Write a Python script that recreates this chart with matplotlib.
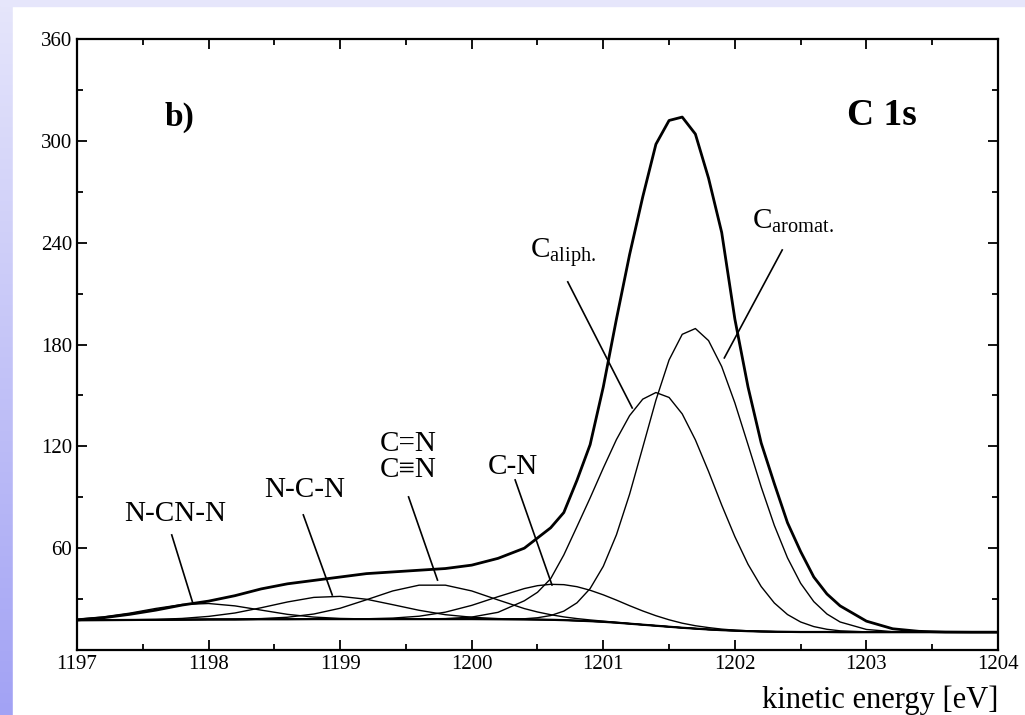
import numpy as np
import matplotlib
matplotlib.use("Agg")
import matplotlib.pyplot as plt
from matplotlib.ticker import MultipleLocator, FormatStrFormatter
from matplotlib.patches import Rectangle

# values (kinetic energy in eV, intensity in counts)
energy = [1197.0, 1197.2, 1197.4, 1197.6, 1197.8, 1198.0, 1198.2, 1198.4, 1198.6,
          1198.8, 1199.0, 1199.2, 1199.4, 1199.6, 1199.8, 1200.0, 1200.2, 1200.4,
          1200.5, 1200.6, 1200.7, 1200.8, 1200.9, 1201.0, 1201.1, 1201.2, 1201.3,
          1201.4, 1201.5, 1201.6, 1201.7, 1201.8, 1201.9, 1202.0, 1202.1, 1202.2,
          1202.3, 1202.4, 1202.5, 1202.6, 1202.7, 1202.8, 1203.0, 1203.2, 1203.4,
          1203.6, 1203.8, 1204.0]
background = [17.5, 17.6, 17.7, 17.8, 17.9, 18.0, 18.0, 18.1, 18.1,
              18.2, 18.2, 18.2, 18.2, 18.2, 18.2, 18.2, 18.1, 18.0,
              17.9, 17.8, 17.6, 17.3, 17.0, 16.6, 16.1, 15.5, 14.9,
              14.3, 13.7, 13.1, 12.6, 12.1, 11.7, 11.4, 11.1, 10.9,
              10.8, 10.7, 10.6, 10.6, 10.6, 10.5, 10.5, 10.5, 10.5,
              10.5, 10.5, 10.5]
total = [17.7, 19.0, 21.0, 23.5, 26.5, 28.8, 32.0, 36.0, 39.0,
         41.0, 43.0, 45.0, 46.0, 47.0, 48.0, 50.0, 54.0, 60.0,
         66.0, 72.0, 81.0, 100.0, 121.0, 155.0, 195.0, 233.0, 267.0,
         298.0, 312.0, 314.0, 304.0, 278.0, 246.0, 195.0, 155.0, 122.0,
         98.0, 75.0, 58.0, 43.0, 33.0, 26.0, 17.0, 12.5, 11.0,
         10.6, 10.5, 10.5]
ncnn = [18.2, 19.5, 21.7, 24.5, 26.8, 27.4, 26.0, 23.5, 21.0,
        19.4, 18.6, 18.3, 18.2, 18.2, 18.2, 18.2, 18.1, 18.0,
        17.9, 17.8, 17.6, 17.3, 17.0, 16.6, 16.1, 15.5, 14.9,
        14.3, 13.7, 13.1, 12.6, 12.1, 11.7, 11.4, 11.1, 10.9,
        10.8, 10.7, 10.6, 10.6, 10.6, 10.5, 10.5, 10.5, 10.5,
        10.5, 10.5, 10.5]
ncn = [17.5, 17.6, 17.8, 18.0, 18.6, 19.8, 21.8, 24.9, 28.3,
       31.0, 31.6, 29.9, 26.7, 23.4, 20.8, 19.3, 18.5, 18.1,
       18.0, 17.8, 17.6, 17.3, 17.0, 16.6, 16.1, 15.5, 14.9,
       14.3, 13.7, 13.1, 12.6, 12.1, 11.7, 11.4, 11.1, 10.9,
       10.8, 10.7, 10.6, 10.6, 10.6, 10.5, 10.5, 10.5, 10.5,
       10.5, 10.5, 10.5]
ceqn = [17.5, 17.6, 17.7, 17.8, 17.9, 18.0, 18.1, 18.5, 19.3,
        21.2, 24.6, 29.6, 34.8, 38.2, 38.2, 34.8, 29.5, 24.4,
        22.4, 20.8, 19.5, 18.5, 17.7, 17.0, 16.3, 15.6, 14.9,
        14.3, 13.7, 13.1, 12.6, 12.1, 11.7, 11.4, 11.1, 10.9,
        10.8, 10.7, 10.6, 10.6, 10.6, 10.5, 10.5, 10.5, 10.5,
        10.5, 10.5, 10.5]
cn = [17.5, 17.6, 17.7, 17.8, 17.9, 18.0, 18.0, 18.1, 18.1,
      18.2, 18.2, 18.4, 18.8, 19.9, 22.3, 26.3, 31.4, 36.2,
      37.9, 38.7, 38.5, 37.3, 35.2, 32.5, 29.4, 26.1, 23.0,
      20.2, 17.8, 15.8, 14.3, 13.2, 12.3, 11.7, 11.3, 11.0,
      10.8, 10.7, 10.6, 10.6, 10.6, 10.5, 10.5, 10.5, 10.5,
      10.5, 10.5, 10.5]
aliph = [17.5, 17.6, 17.7, 17.8, 17.9, 18.0, 18.0, 18.1, 18.1,
         18.2, 18.2, 18.2, 18.2, 18.3, 18.5, 19.4, 22.2, 29.0,
         34.0, 42.0, 56.0, 72.7, 89.6, 107.2, 124.0, 138.1, 147.8,
         151.7, 148.8, 139.1, 123.8, 105.2, 85.4, 66.8, 50.5, 37.4,
         27.7, 20.9, 16.5, 13.8, 12.2, 11.3, 10.7, 10.5, 10.5,
         10.5, 10.5, 10.5]
arom = [17.5, 17.6, 17.7, 17.8, 17.9, 18.0, 18.0, 18.1, 18.1,
        18.2, 18.2, 18.2, 18.2, 18.2, 18.2, 18.2, 18.2, 18.4,
        19.0, 20.3, 22.9, 27.8, 36.2, 49.3, 67.9, 91.8, 119.4,
        147.2, 170.9, 186.0, 189.4, 182.3, 167.0, 145.6, 121.0, 96.1,
        73.4, 54.3, 39.3, 28.5, 21.2, 16.5, 12.1, 10.8, 10.6,
        10.5, 10.5, 10.5]
components = [ncnn, ncn, ceqn, cn, aliph, arom]

plt.rcParams['font.family'] = ['Liberation Serif']
plt.rcParams['mathtext.fontset'] = 'custom'
plt.rcParams['mathtext.rm'] = 'Liberation Serif'

W, H = 1025, 715
fig = plt.figure(figsize=(W / 100, H / 100), dpi=100)

# slide background: lavender strip on the left and top
back = fig.add_axes([0, 0, 1, 1])
back.axis('off')
grad = np.linspace(0, 1, 256)[:, None, None]
top_c = np.array([230, 230, 251]) / 255
bot_c = np.array([162, 162, 244]) / 255
img = top_c * (1 - grad) + bot_c * grad
back.imshow(img, extent=[0, 1, 0, 1], aspect='auto')
back.add_patch(Rectangle((13 / W, 0), 1, (H - 6) / H, color='white'))
back.add_patch(Rectangle((0, (H - 6) / H), 1, 6 / H, color=top_c))
back.set_xlim(0, 1)
back.set_ylim(0, 1)

ax = fig.add_axes([77 / W, (H - 650) / H, (998 - 77) / W, (650 - 39) / H])
ax.set_facecolor('white')

ax.plot(energy, background, color='black', lw=1.6)
for comp in components:
    ax.plot(energy, comp, color='black', lw=1.0)
ax.plot(energy, total, color='black', lw=2.0)

ax.set_xlim(1197, 1204)
ax.set_ylim(0, 360)
ax.xaxis.set_major_locator(MultipleLocator(1))
ax.xaxis.set_minor_locator(MultipleLocator(0.5))
ax.yaxis.set_minor_locator(MultipleLocator(30))
ax.set_yticks([60, 120, 180, 240, 300, 360])
ax.tick_params(which='both', direction='in', top=True, right=True, labelsize=15, width=1.3)
ax.tick_params(which='major', length=7)
ax.tick_params(which='minor', length=4)
ax.xaxis.set_major_formatter(FormatStrFormatter('%d'))
for sp in ax.spines.values():
    sp.set_linewidth(1.6)

fig.text(998 / W, (H - 708) / H, 'kinetic energy [eV]', ha='right', va='baseline', fontsize=22)
ax.text(1197.78, 314, 'b)', fontsize=24, ha='center', va='center', weight='bold')
ax.text(1203.12, 315, 'C 1s', fontsize=27, ha='center', va='center', weight='bold')

labels = [
    ('N-CN-N', 1197.75, 80.1, (1197.72, 67.8), (1197.88, 27.7)),
    ('N-C-N', 1198.73, 94.3, (1198.72, 79.6), (1198.94, 32.4)),
    ('C=N\nC\u2261N', 1199.52, 114.0, (1199.52, 90.2), (1199.74, 41.2)),
    ('C-N', 1200.31, 107.8, (1200.33, 100.2), (1200.61, 38.3)),
]
for txt, tx, ty, p0, p1 in labels:
    ax.text(tx, ty, txt, fontsize=21, ha='center', va='center', linespacing=1.0)
    ax.plot([p0[0], p1[0]], [p0[1], p1[1]], color='black', lw=1.2)
ax.text(1200.44, 234, r'$\mathrm{C}_{\mathrm{aliph.}}$', fontsize=21, ha='left', va='center')
ax.plot([1200.73, 1201.22], [216.9, 142.6], color='black', lw=1.2)
ax.text(1202.13, 253, r'$\mathrm{C}_{\mathrm{aromat.}}$', fontsize=21, ha='left', va='center')
ax.plot([1202.36, 1201.92], [235.7, 172.1], color='black', lw=1.2)

fig.savefig('out.png', dpi=100)
